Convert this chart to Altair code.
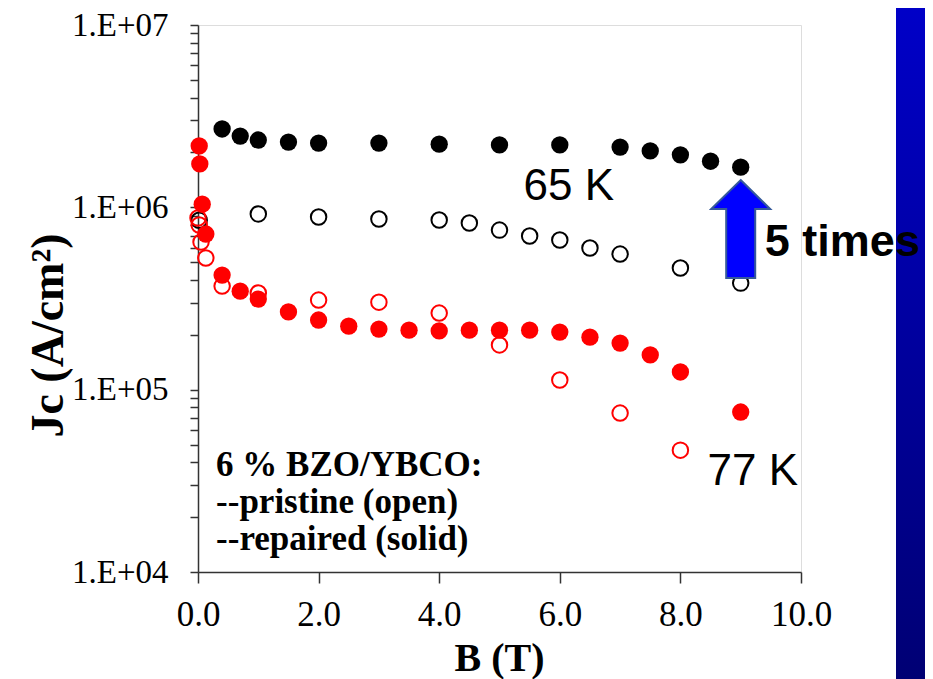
import altair as alt
import pandas as pd

# ---- data ----
# 65 K, repaired (solid black)
b65_rep = [0.4, 0.7, 1.0, 1.5, 2.0, 3.0, 4.0, 5.0, 6.0, 7.0, 7.5, 8.0, 8.5, 9.0]
jc65_rep = [2.69e6, 2.46e6, 2.34e6, 2.28e6, 2.25e6, 2.25e6, 2.22e6, 2.20e6, 2.20e6,
            2.14e6, 2.04e6, 1.94e6, 1.79e6, 1.66e6]
# 65 K, pristine (open black)
b65_pri = [0.02, 1.0, 2.0, 3.0, 4.0, 4.5, 5.0, 5.5, 6.0, 6.5, 7.0, 8.0, 9.0]
jc65_pri = [8.5e5, 9.2e5, 8.85e5, 8.63e5, 8.52e5, 8.2e5, 7.5e5, 6.96e5, 6.62e5,
            5.98e5, 5.54e5, 4.65e5, 3.84e5]
# 77 K, repaired (solid red)
b77_rep = [0.02, 0.03, 0.07, 0.13, 0.4, 0.7, 1.0, 1.5, 2.0, 2.5, 3.0, 3.5, 4.0, 4.5,
           5.0, 5.5, 6.0, 6.5, 7.0, 7.5, 8.0, 9.0]
jc77_rep = [2.17e6, 1.73e6, 1.04e6, 7.14e5, 4.25e5, 3.47e5, 3.14e5, 2.67e5, 2.41e5,
            2.23e5, 2.15e5, 2.12e5, 2.10e5, 2.12e5, 2.12e5, 2.12e5, 2.07e5, 1.94e5,
            1.80e5, 1.55e5, 1.25e5, 7.54e4]
# 77 K, pristine (open red)
b77_pri = [0.0, 0.02, 0.05, 0.13, 0.4, 1.0, 2.0, 3.0, 4.0, 5.0, 6.0, 7.0, 8.0]
jc77_pri = [8.74e5, 8.0e5, 6.45e5, 5.27e5, 3.70e5, 3.39e5, 3.10e5, 3.02e5, 2.63e5,
            1.76e5, 1.13e5, 7.44e4, 4.66e4]

# tick values
x_ticks = [0, 2, 4, 6, 8, 10]
y_ticks = [m * 10 ** e for e in (4, 5, 6) for m in range(1, 10)] + [10 ** 7]

# annotations
temp_labels = ["65 K", "77 K"]
temp_b = [5.4, 8.45]
temp_jc = [1.29e6, 3.53e4]

times_label = ["5 times"]
times_b = [9.4]
times_jc = [6.46e5]

note_lines = ["6 % BZO/YBCO:", "--pristine (open)", "--repaired  (solid)"]
note_b = [0.3, 0.3, 0.3]
note_jc = [3.38e4, 2.10e4, 1.32e4]

arrow_b = [9.0]
arrow_jc = [7.6e5]

SERIF = "Liberation Serif"
SANS = "Liberation Sans"


def frame(b, j, **extra):
    d = {"B": b, "Jc": j}
    d.update(extra)
    return pd.DataFrame(d)


x_enc = alt.X(
    "B:Q",
    scale=alt.Scale(domain=[0, 10], nice=False, zero=False),
    axis=alt.Axis(
        values=x_ticks, format=".1f", title="B (T)", grid=False, labelFlush=False,
        tickSize=11, tickWidth=1.5, tickColor="#333", domainColor="#333", domainWidth=1.5,
        labelFont=SERIF, labelFontSize=35, labelColor="black", labelPadding=14,
        titleFont=SERIF, titleFontSize=40, titleFontWeight="bold", titleColor="black",
        titleX=301, titleY=86, titleBaseline="middle", titleAlign="center",
    ),
)
y_enc = alt.Y(
    "Jc:Q",
    scale=alt.Scale(type="log", domain=[1e4, 1e7], nice=False),
    axis=alt.Axis(
        values=y_ticks, grid=False, labelOverlap=False, labelFlush=False,
        labelExpr="abs(log(datum.value)/LN10 - round(log(datum.value)/LN10)) < 1e-6 ? '1.E+0' + round(log(datum.value)/LN10) : ''",
        tickSize=8, tickWidth=1.5, tickColor="#333", domainColor="#333", domainWidth=1.5,
        labelFont=SERIF, labelFontSize=33, labelColor="black", labelPadding=22,
        labelBaseline="middle",
        title="Jc (A/cm²)", titleFont=SERIF, titleFontSize=46, titleFontWeight="bold",
        titleColor="black", titleAngle=-90, titleX=-150, titleY=310,
        titleBaseline="middle", titleAlign="center",
    ),
)

bar = alt.Chart(pd.DataFrame({"k": [0]})).mark_rect(
    fill=alt.Gradient(
        gradient="linear", x1=0, y1=0, x2=0, y2=1,
        stops=[alt.GradientStop(color="#0000C8", offset=0),
               alt.GradientStop(color="#00006E", offset=1)],
    ),
    stroke="transparent",
).encode(x=alt.value(698), x2=alt.value(760), y=alt.value(-20), y2=alt.value(700))

open65 = alt.Chart(frame(b65_pri, jc65_pri)).mark_point(
    shape="circle", filled=False, size=240, strokeWidth=2, color="black", opacity=1
).encode(x=x_enc, y=y_enc)
solid65 = alt.Chart(frame(b65_rep, jc65_rep)).mark_point(
    shape="circle", filled=True, size=300, color="black", opacity=1
).encode(x=x_enc, y=y_enc)
open77 = alt.Chart(frame(b77_pri, jc77_pri)).mark_point(
    shape="circle", filled=False, size=240, strokeWidth=2, color="#FF0000", opacity=1
).encode(x=x_enc, y=y_enc)
solid77 = alt.Chart(frame(b77_rep, jc77_rep)).mark_point(
    shape="circle", filled=True, size=300, color="#FF0000", opacity=1
).encode(x=x_enc, y=y_enc)

ARROW = "M0,-1 L0.602,-0.408 L0.296,-0.408 L0.296,1 L-0.296,1 L-0.296,-0.408 L-0.602,-0.408 Z"
arrow = alt.Chart(frame(arrow_b, arrow_jc)).mark_point(
    shape=ARROW, size=98 * 98, fill="#0000FF", stroke="#35599A", strokeWidth=2,
    opacity=1, fillOpacity=1, strokeOpacity=1,
).encode(x=x_enc, y=y_enc)

temps = alt.Chart(frame(temp_b, temp_jc, label=temp_labels)).mark_text(
    font=SANS, fontSize=44, align="left", baseline="middle", color="black"
).encode(x=x_enc, y=y_enc, text="label:N")

times = alt.Chart(frame(times_b, times_jc, label=times_label)).mark_text(
    font=SANS, fontSize=45, fontWeight="bold", align="left", baseline="middle", color="black"
).encode(x=x_enc, y=y_enc, text="label:N")

notes = alt.Chart(frame(note_b, note_jc, label=note_lines)).mark_text(
    font=SERIF, fontSize=35, fontWeight="bold", align="left", baseline="alphabetic",
    color="black"
).encode(x=x_enc, y=y_enc, text="label:N")

chart = alt.layer(
    bar, open65, solid65, open77, solid77, arrow, temps, times, notes
).properties(
    width=603, height=547,
    autosize=alt.AutoSizeParams(type="none"),
    padding={"left": 190, "top": 17, "right": 124, "bottom": 107},
).configure_view(
    stroke="#333", strokeWidth=1.5
).configure(background="white")

chart.save("out.html", embed_options={"renderer": "svg", "actions": False})
